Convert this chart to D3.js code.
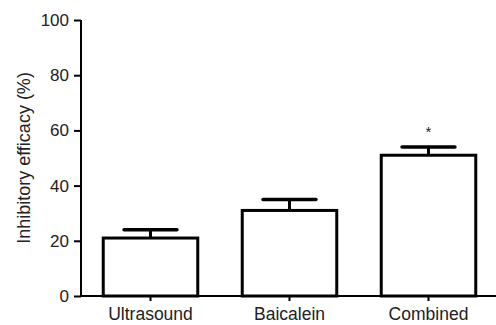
<!DOCTYPE html>
<html>
<head>
<meta charset="utf-8">
<script src="https://cdn.jsdelivr.net/npm/d3@7"></script>
<style>
  body { margin: 0; background: #fff; }
  text { font-family: "Liberation Sans", Arial, sans-serif; fill: #222; }
</style>
</head>
<body>
<div id="chart"></div>
<script>
var groups = ["Ultrasound", "Baicalein", "Combined"];
var means = [21, 31, 51];
var errors = [3, 4, 3];
var marks = ["", "", "*"];
var yTicks = [0, 20, 40, 60, 80, 100];

var width = 496, height = 325;
var plotLeft = 81, plotTop = 20, plotBottom = 296, plotRight = 498;

var svg = d3.select("#chart").append("svg")
    .attr("width", width)
    .attr("height", height);

/* Scales */
var x = d3.scaleBand()
    .domain(groups)
    .range([plotLeft, plotRight])
    .paddingInner(0.32)
    .paddingOuter(0.16);

var y = d3.scaleLinear()
    .domain([0, 100])
    .range([plotBottom, plotTop]);

/* Bars */
svg.append("g").selectAll("rect")
    .data(groups).enter()
    .append("rect")
    .attr("x", d => x(d))
    .attr("y", (d, i) => y(means[i]))
    .attr("width", x.bandwidth())
    .attr("height", (d, i) => y(0) - y(means[i]))
    .style("fill", "#fff")
    .style("stroke", "#000")
    .style("stroke-width", 3);

/* Error bars (upper only) */
var capW = x.bandwidth() * 0.56;
var err = svg.append("g");
err.selectAll(".stem")
    .data(groups).enter()
    .append("line")
    .attr("x1", d => x(d) + x.bandwidth() / 2)
    .attr("x2", d => x(d) + x.bandwidth() / 2)
    .attr("y1", (d, i) => y(means[i]))
    .attr("y2", (d, i) => y(means[i] + errors[i]))
    .style("stroke", "#000")
    .style("stroke-width", 3);
err.selectAll(".cap")
    .data(groups).enter()
    .append("line")
    .attr("x1", d => x(d) + x.bandwidth() / 2 - capW / 2)
    .attr("x2", d => x(d) + x.bandwidth() / 2 + capW / 2)
    .attr("y1", (d, i) => y(means[i] + errors[i]))
    .attr("y2", (d, i) => y(means[i] + errors[i]))
    .style("stroke", "#000")
    .style("stroke-width", 3.5)
    .style("stroke-linecap", "round");

/* Significance marks */
svg.append("g").selectAll("text")
    .data(groups).enter()
    .append("text")
    .attr("x", d => x(d) + x.bandwidth() / 2)
    .attr("y", (d, i) => y(means[i] + errors[i]) - 10)
    .attr("text-anchor", "middle")
    .style("font-size", "15px")
    .text((d, i) => marks[i]);

/* Axes */
var yAxis = d3.axisLeft(y).tickValues(yTicks).tickSize(7).tickPadding(5);
var gy = svg.append("g")
    .attr("transform", `translate(${plotLeft}, 0)`)
    .call(yAxis);
gy.select(".domain").attr("d", `M0,${plotTop}V${plotBottom}`).style("stroke-width", 2);
gy.selectAll(".tick line").style("stroke-width", 2);
gy.selectAll(".tick text").style("font-size", "17px").style("fill", "#222");

var xAxis = d3.axisBottom(x).tickSize(5).tickPadding(7);
var gx = svg.append("g")
    .attr("transform", `translate(0, ${plotBottom})`)
    .call(xAxis);
gx.select(".domain").attr("d", `M${plotLeft},0H${width}`).style("stroke-width", 2);
gx.selectAll(".tick line").style("stroke-width", 2);
gx.selectAll(".tick text").style("font-size", "17.5px").style("fill", "#222");

/* Y label */
svg.append("text")
    .attr("transform", "translate(30, 158) rotate(-90)")
    .attr("text-anchor", "middle")
    .style("font-size", "18px")
    .text("Inhibitory efficacy (%)");
</script>
</body>
</html>
